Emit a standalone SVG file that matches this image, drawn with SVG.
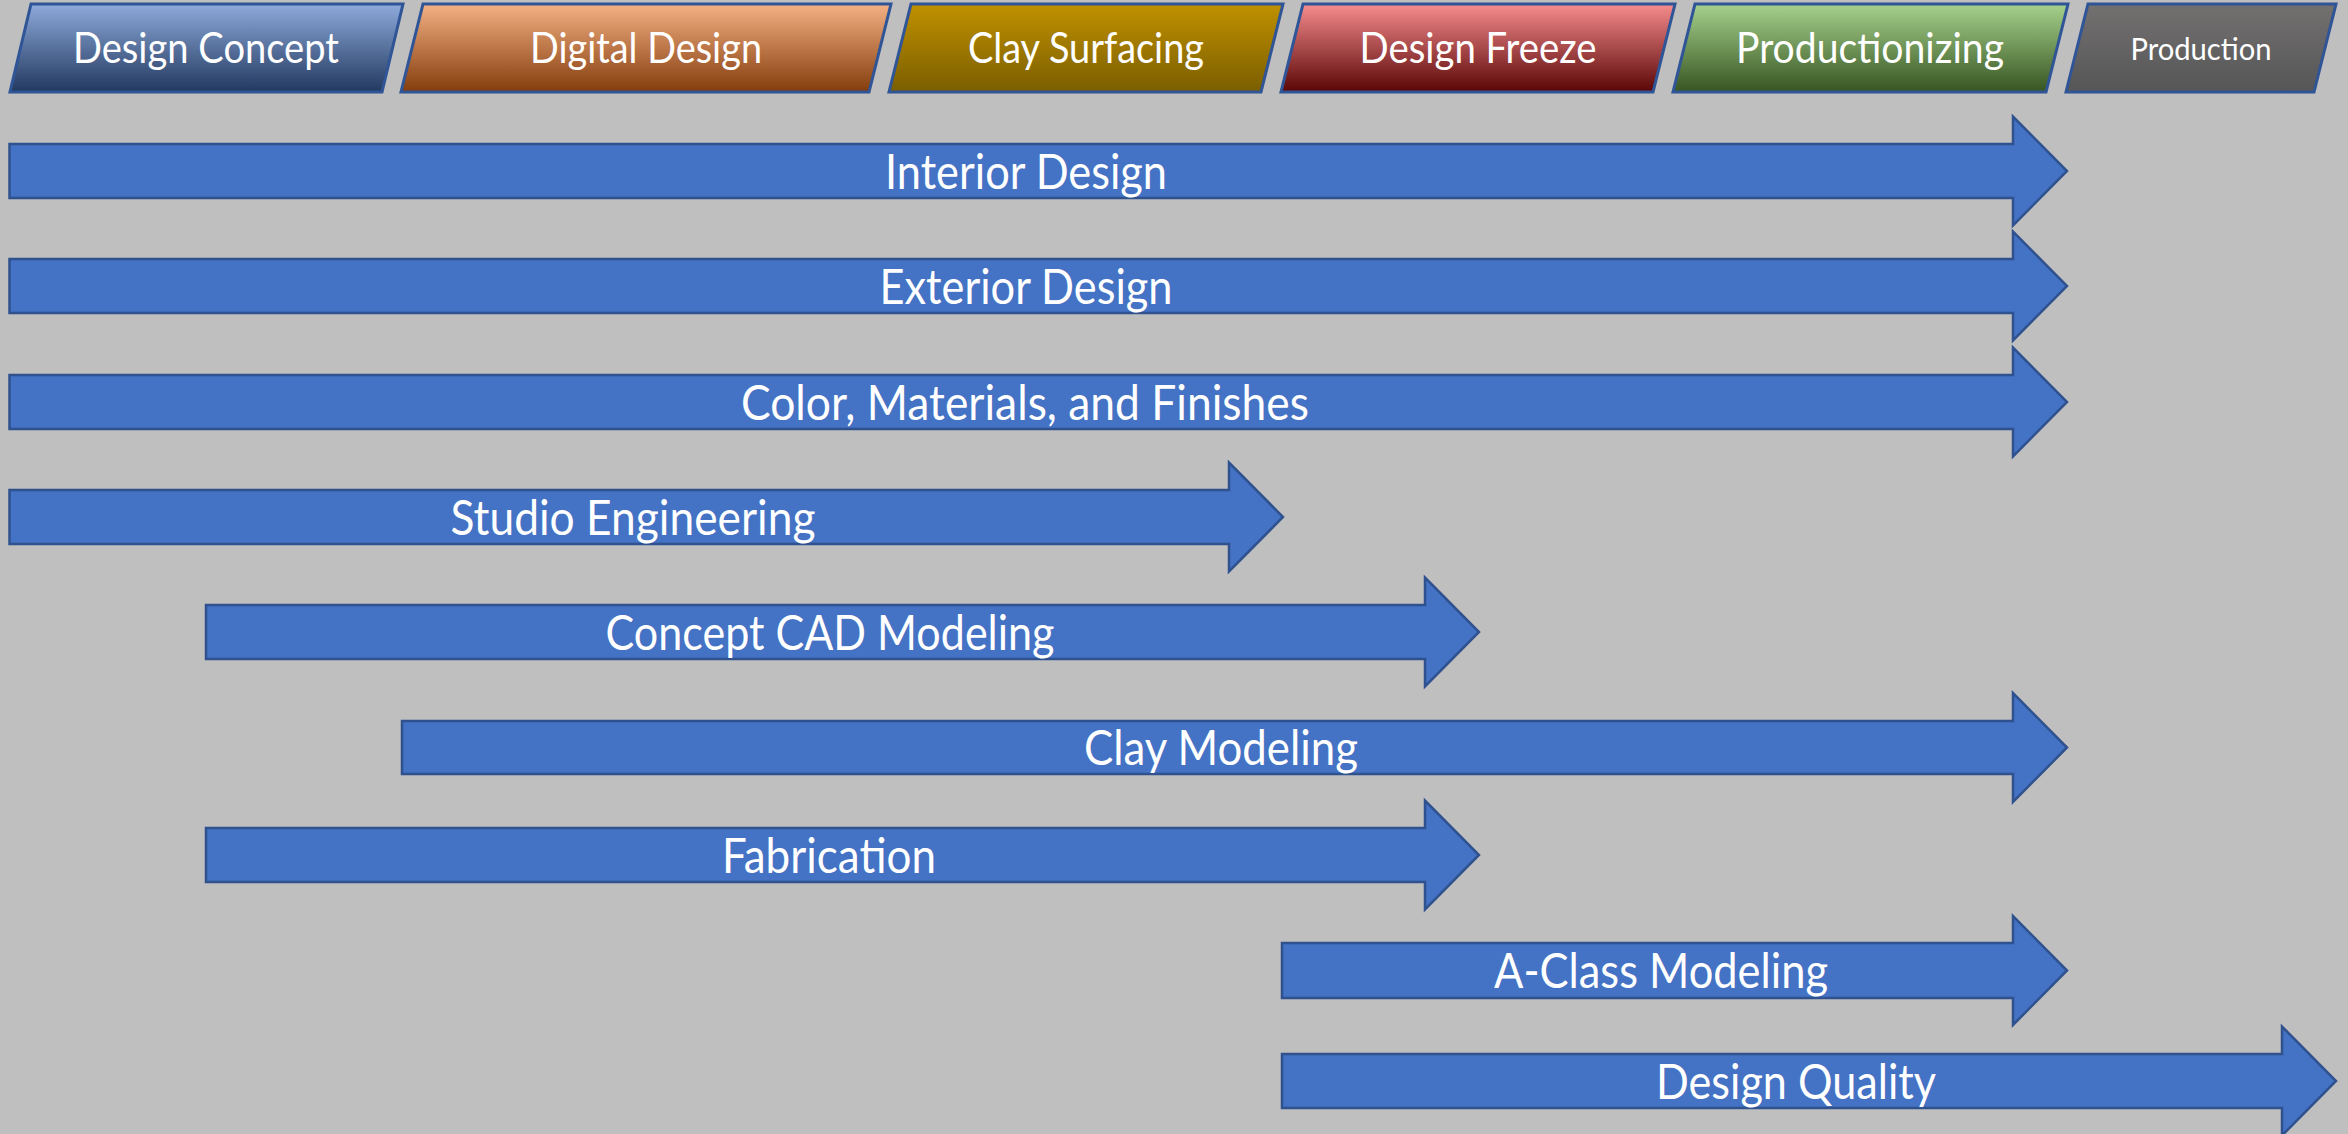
<svg xmlns="http://www.w3.org/2000/svg" width="2348" height="1134" viewBox="0 0 2348 1134">
<defs>
<linearGradient id="gDC" x1="0" y1="0" x2="0" y2="1"><stop offset="0" stop-color="#8eaadb"/><stop offset="1" stop-color="#22395f"/></linearGradient>
<linearGradient id="gDD" x1="0" y1="0" x2="0" y2="1"><stop offset="0" stop-color="#f4b183"/><stop offset="1" stop-color="#843c0c"/></linearGradient>
<linearGradient id="gCS" x1="0" y1="0" x2="0" y2="1"><stop offset="0" stop-color="#c09000"/><stop offset="1" stop-color="#7a5e00"/></linearGradient>
<linearGradient id="gDF" x1="0" y1="0" x2="0" y2="1"><stop offset="0" stop-color="#f68c8e"/><stop offset="1" stop-color="#5a0606"/></linearGradient>
<linearGradient id="gPZ" x1="0" y1="0" x2="0" y2="1"><stop offset="0" stop-color="#a6d18c"/><stop offset="1" stop-color="#375522"/></linearGradient>
<linearGradient id="gPR" x1="0" y1="0" x2="0" y2="1"><stop offset="0" stop-color="#737070"/><stop offset="1" stop-color="#565656"/></linearGradient>
</defs>
<style>
.hdr{stroke:#2f5597;stroke-width:3;stroke-linejoin:miter}
.arr{fill:#4472c4;stroke:#2f528f;stroke-width:2.5;stroke-linejoin:miter}
.t{font-family:Lato,"Open Sans","Liberation Sans",sans-serif;fill:#ffffff;text-anchor:middle}
.th{font-size:42px}
.ta{font-size:48px}
</style>
<rect x="0" y="0" width="2348" height="1134" fill="#bfbfbf"/>
<g id="phases">
<g id="phase-design-concept"><polygon class="hdr" fill="url(#gDC)" points="31,4 403,4 382,92 10,92"/><text class="t th" x="206" y="63" textLength="266" lengthAdjust="spacingAndGlyphs">Design Concept</text></g>
<g id="phase-digital-design"><polygon class="hdr" fill="url(#gDD)" points="423,4 891,4 869,92 401,92"/><text class="t th" x="646" y="63" textLength="232" lengthAdjust="spacingAndGlyphs">Digital Design</text></g>
<g id="phase-clay-surfacing"><polygon class="hdr" fill="url(#gCS)" points="911,4 1283,4 1261,92 889,92"/><text class="t th" x="1086" y="63" textLength="236" lengthAdjust="spacingAndGlyphs">Clay Surfacing</text></g>
<g id="phase-design-freeze"><polygon class="hdr" fill="url(#gDF)" points="1303,4 1675,4 1653,92 1281,92"/><text class="t th" x="1478" y="63" textLength="237" lengthAdjust="spacingAndGlyphs">Design Freeze</text></g>
<g id="phase-productionizing"><polygon class="hdr" fill="url(#gPZ)" points="1695,4 2068,4 2046,92 1673,92"/><text class="t th" x="1870" y="63" textLength="268" lengthAdjust="spacingAndGlyphs">Productionizing</text></g>
<g id="phase-production"><polygon class="hdr" fill="url(#gPR)" points="2088,4 2336,4 2314,92 2066,92"/><text class="t" style="font-size:31px" x="2201" y="60" textLength="141" lengthAdjust="spacingAndGlyphs">Production</text></g>
</g>
<g id="connectors">
<g id="interior-design"><polygon class="arr" points="9.5,144 2013,144 2013,116.5 2067,171 2013,225.5 2013,198 9.5,198"/><text class="t ta" x="1026" y="189" textLength="282" lengthAdjust="spacingAndGlyphs">Interior Design</text></g>
<g id="exterior-design"><polygon class="arr" points="9.5,259 2013,259 2013,231.5 2067,286 2013,340.5 2013,313 9.5,313"/><text class="t ta" x="1026" y="304" textLength="293" lengthAdjust="spacingAndGlyphs">Exterior Design</text></g>
<g id="color-materials"><polygon class="arr" points="9.5,375 2013,375 2013,347.5 2067,402 2013,456.5 2013,429 9.5,429"/><text class="t ta" x="1025" y="420" textLength="568" lengthAdjust="spacingAndGlyphs">Color, Materials, and Finishes</text></g>
<g id="studio-engineering"><polygon class="arr" points="9.5,490 1229,490 1229,462.5 1283,517 1229,571.5 1229,544 9.5,544"/><text class="t ta" x="633" y="535" textLength="365" lengthAdjust="spacingAndGlyphs">Studio Engineering</text></g>
<g id="concept-cad"><polygon class="arr" points="206,605 1425,605 1425,577.5 1479,632 1425,686.5 1425,659 206,659"/><text class="t ta" x="830" y="650" textLength="449" lengthAdjust="spacingAndGlyphs">Concept CAD Modeling</text></g>
<g id="clay-modeling"><polygon class="arr" points="402,721 2013,721 2013,693 2067,747.5 2013,802 2013,774 402,774"/><text class="t ta" x="1221" y="765" textLength="274" lengthAdjust="spacingAndGlyphs">Clay Modeling</text></g>
<g id="fabrication"><polygon class="arr" points="206,828 1425,828 1425,800.5 1479,855 1425,909.5 1425,882 206,882"/><text class="t ta" x="829" y="873" textLength="214" lengthAdjust="spacingAndGlyphs">Fabrication</text></g>
<g id="a-class-modeling"><polygon class="arr" points="1282,943 2013,943 2013,916 2067,970.5 2013,1025 2013,998 1282,998"/><text class="t ta" x="1661" y="988" textLength="334" lengthAdjust="spacingAndGlyphs">A-Class Modeling</text></g>
<g id="design-quality"><polygon class="arr" points="1282,1054 2282,1054 2282,1026.5 2336,1081 2282,1135.5 2282,1108 1282,1108"/><text class="t ta" x="1796" y="1099" textLength="280" lengthAdjust="spacingAndGlyphs">Design Quality</text></g>
</g>
</svg>
